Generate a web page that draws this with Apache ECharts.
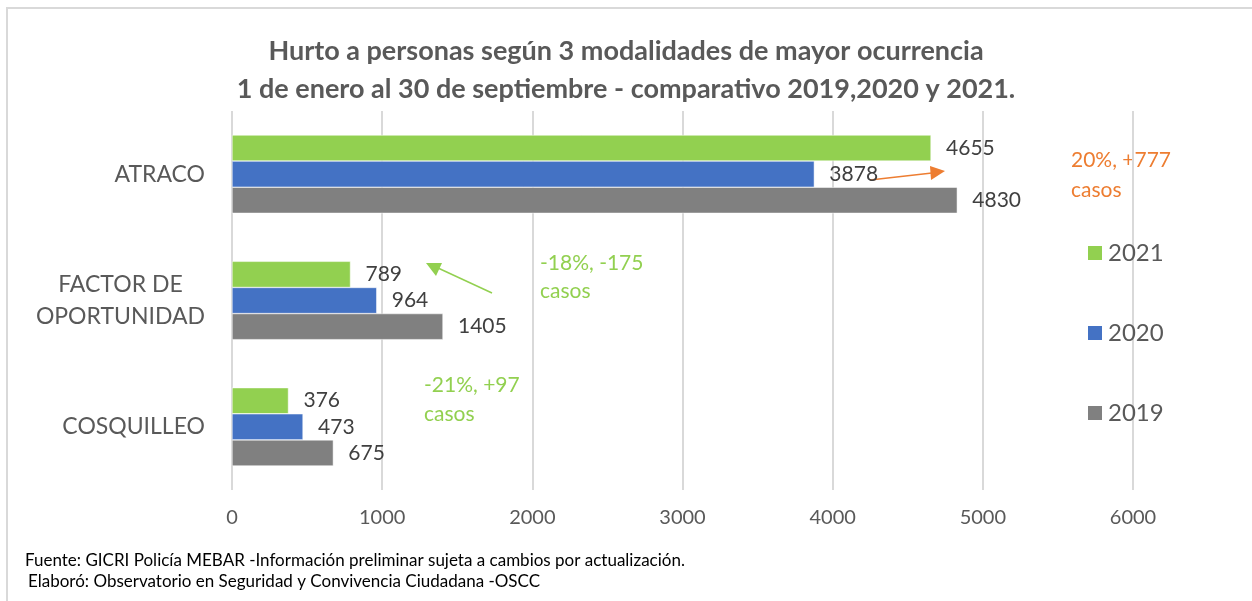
<!DOCTYPE html>
<html>
<head>
<meta charset="UTF-8">
<title>Hurto a personas</title>
<script src="https://cdn.jsdelivr.net/npm/echarts@6/dist/echarts.min.js"></script>
<style>
  html, body { margin: 0; padding: 0; background: #fff; }
  #main { width: 1252px; height: 601px; }
</style>
</head>
<body>
<div id="main"></div>
<script>
// datos
var categorias = ['ATRACO', 'FACTOR DE\nOPORTUNIDAD', 'COSQUILLEO'];
var anios = ['2021', '2020', '2019'];
var datos2021 = [4655, 789, 376];
var datos2020 = [3878, 964, 473];
var datos2019 = [4830, 1405, 675];
var colores = ['#92D050', '#4472C4', '#808080'];
var ticksX = [0, 1000, 2000, 3000, 4000, 5000, 6000];

var fuente = 'Lato, "Open Sans", sans-serif';
var chart = echarts.init(document.getElementById('main'));

function serie(nombre, valores, color) {
  return {
    name: nombre,
    type: 'bar',
    data: valores,
    barCategoryGap: '38%',
    barGap: '0%',
    itemStyle: { color: color, borderColor: '#fff', borderWidth: 0.5 },
    label: {
      show: true,
      position: 'right',
      distance: 15,
      color: '#404040',
      fontSize: 21,
      fontFamily: fuente
    }
  };
}

var option = {
  animation: false,
  title: {
    text: 'Hurto a personas según 3 modalidades de mayor ocurrencia\n1 de enero al 30 de septiembre - comparativo 2019,2020 y 2021.',
    left: 'center',
    top: 27,
    textStyle: {
      color: '#595959',
      fontSize: 27,
      fontWeight: 'bold',
      fontFamily: fuente,
      lineHeight: 38
    }
  },
  legend: {
    orient: 'vertical',
    left: 1081,
    top: 236,
    itemGap: 56,
    itemWidth: 16,
    itemHeight: 16,
    icon: 'rect',
    data: anios,
    textStyle: { color: '#595959', fontSize: 24, fontFamily: fuente }
  },
  grid: { left: 232, right: 119, top: 111, bottom: 111 },
  xAxis: {
    type: 'value',
    min: 0,
    max: 6000,
    interval: 1000,
    axisLine: { show: false },
    axisTick: { show: false },
    splitLine: { lineStyle: { color: '#D9D9D9', width: 2 } },
    axisLabel: {
      color: '#595959',
      fontSize: 20,
      fontFamily: fuente,
      margin: 18,
      formatter: function (v) { return ticksX.indexOf(v) >= 0 ? String(v) : ''; }
    }
  },
  yAxis: {
    type: 'category',
    inverse: true,
    data: categorias,
    axisLine: { show: false },
    axisTick: { show: false },
    axisLabel: {
      margin: 27,
      formatter: function (v) {
        return v.split('\n').map(function (l) { return '{a|' + l + '}'; }).join('\n');
      },
      rich: {
        a: { align: 'center', color: '#595959', fontSize: 23, fontFamily: fuente, lineHeight: 32 }
      }
    }
  },
  series: [
    serie(anios[0], datos2021, colores[0]),
    serie(anios[1], datos2020, colores[1]),
    serie(anios[2], datos2019, colores[2])
  ],
  graphic: [
    // marco
    { type: 'rect', shape: { x: 7, y: 8, width: 1260, height: 620 },
      style: { fill: 'none', stroke: '#D9D9D9', lineWidth: 2 }, silent: true },
    // anotacion atraco
    { type: 'text', left: 1071, top: 145,
      style: { text: '20%, +777\ncasos', fill: '#ED7D31', fontSize: 21, fontFamily: fuente, lineHeight: 30 } },
    { type: 'line', shape: { x1: 870, y1: 180, x2: 932, y2: 173 },
      style: { stroke: '#ED7D31', lineWidth: 1.5 } },
    { type: 'polygon', shape: { points: [[945, 171], [930, 166], [931, 180]] },
      style: { fill: '#ED7D31' } },
    // anotacion factor de oportunidad
    { type: 'text', left: 540, top: 249,
      style: { text: '-18%, -175\ncasos', fill: '#92D050', fontSize: 21, fontFamily: fuente, lineHeight: 28 } },
    { type: 'line', shape: { x1: 492, y1: 293, x2: 438, y2: 268 },
      style: { stroke: '#92D050', lineWidth: 1.5 } },
    { type: 'polygon', shape: { points: [[426, 263], [442, 263], [436, 276]] },
      style: { fill: '#92D050' } },
    // anotacion cosquilleo
    { type: 'text', left: 424, top: 371,
      style: { text: '-21%, +97\ncasos', fill: '#92D050', fontSize: 21, fontFamily: fuente, lineHeight: 29 } },
    // pie
    { type: 'text', left: 25, top: 552,
      style: { text: 'Fuente: GICRI Policía MEBAR -Información preliminar sujeta a cambios por actualización.', fill: '#000', fontSize: 17, fontFamily: fuente } },
    { type: 'text', left: 28, top: 573,
      style: { text: 'Elaboró: Observatorio en Seguridad y Convivencia Ciudadana -OSCC', fill: '#000', fontSize: 17, fontFamily: fuente } }
  ]
};

chart.setOption(option);
</script>
</body>
</html>
